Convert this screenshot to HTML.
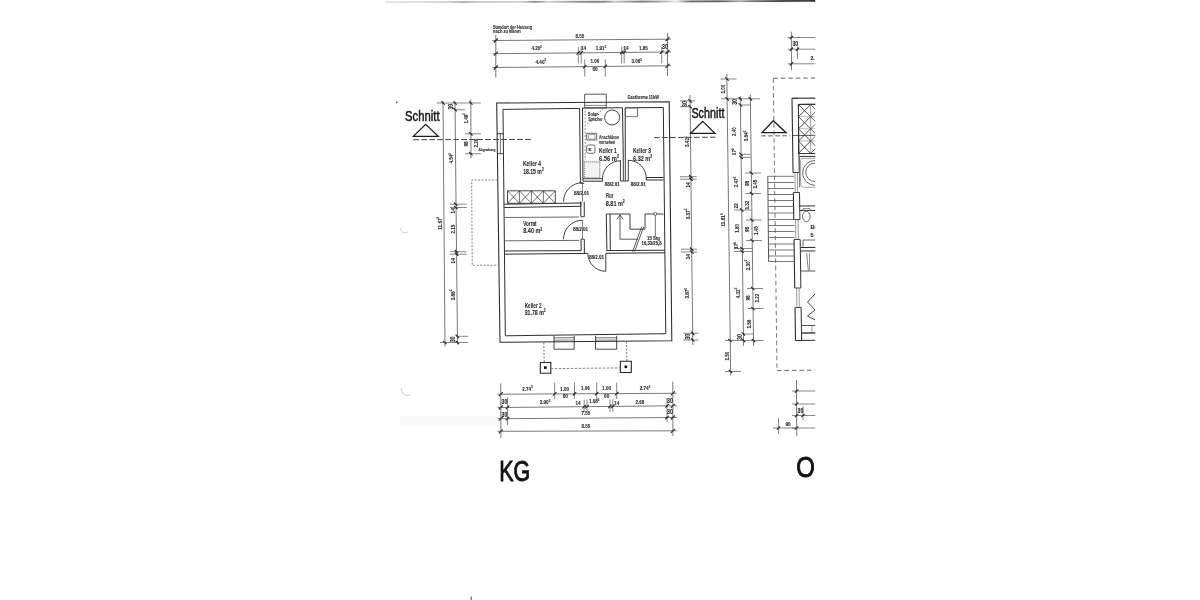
<!DOCTYPE html>
<html><head><meta charset="utf-8"><title>KG Grundriss</title>
<style>
html,body{margin:0;padding:0;background:#fff;}
body{width:1200px;height:600px;overflow:hidden;}
svg{display:block;font-family:"Liberation Sans",sans-serif;filter:grayscale(1) blur(0.45px);}
text{stroke:#333;stroke-width:0.12px;paint-order:stroke;font-weight:bold;}
</style></head>
<body>
<svg width="1200" height="600" viewBox="0 0 1200 600">
<rect width="1200" height="600" fill="#fff"/>
<clipPath id="cp"><rect x="380" y="0" width="435.2" height="600"/></clipPath>
<g clip-path="url(#cp)">
<defs><linearGradient id="sg" x1="385" y1="0" x2="816" y2="0" gradientUnits="userSpaceOnUse"><stop offset="0.000" stop-color="#e2e2e2"/><stop offset="0.146" stop-color="#d2d2d2"/><stop offset="0.179" stop-color="#a8a8a8"/><stop offset="0.220" stop-color="#cacaca"/><stop offset="0.318" stop-color="#cccccc"/><stop offset="0.348" stop-color="#8a8a8a"/><stop offset="0.378" stop-color="#d0d0d0"/><stop offset="0.418" stop-color="#b0b0b0"/><stop offset="0.476" stop-color="#808080"/><stop offset="0.510" stop-color="#8a8a8a"/><stop offset="0.534" stop-color="#c8c8c8"/><stop offset="0.592" stop-color="#7a7a7a"/><stop offset="0.638" stop-color="#a0a0a0"/><stop offset="0.675" stop-color="#e8e8e8"/><stop offset="0.708" stop-color="#6a6a6a"/><stop offset="0.777" stop-color="#5a5a5a"/><stop offset="0.824" stop-color="#a8a8a8"/><stop offset="0.852" stop-color="#707070"/><stop offset="0.916" stop-color="#3a3a3a"/><stop offset="0.981" stop-color="#444444"/><stop offset="0.998" stop-color="#222222"/></linearGradient></defs>
<path d="M385,2.1 L600,1.7 L816,0.9" stroke="url(#sg)" stroke-width="1.9" fill="none"/>
<line x1="492.50" y1="40.52" x2="671.00" y2="39.17" stroke="#555" stroke-width="0.8" />
<line x1="492.50" y1="53.73" x2="671.00" y2="51.97" stroke="#555" stroke-width="0.8" />
<line x1="492.50" y1="67.53" x2="671.00" y2="65.77" stroke="#555" stroke-width="0.8" />
<line x1="495.80" y1="35.00" x2="495.80" y2="77.50" stroke="#555" stroke-width="0.8" />
<line x1="667.50" y1="33.00" x2="667.50" y2="76.00" stroke="#555" stroke-width="0.8" />
<line x1="493.80" y1="42.50" x2="497.80" y2="38.50" stroke="#222" stroke-width="1.1" />
<line x1="493.80" y1="55.70" x2="497.80" y2="51.70" stroke="#222" stroke-width="1.1" />
<line x1="493.80" y1="69.50" x2="497.80" y2="65.50" stroke="#222" stroke-width="1.1" />
<line x1="665.50" y1="41.20" x2="669.50" y2="37.20" stroke="#222" stroke-width="1.1" />
<line x1="665.50" y1="54.00" x2="669.50" y2="50.00" stroke="#222" stroke-width="1.1" />
<line x1="665.50" y1="67.80" x2="669.50" y2="63.80" stroke="#222" stroke-width="1.1" />
<line x1="578.30" y1="46.70" x2="578.30" y2="63.30" stroke="#555" stroke-width="0.7" />
<line x1="576.60" y1="54.58" x2="580.00" y2="51.18" stroke="#222" stroke-width="1.1" />
<line x1="581.20" y1="46.70" x2="581.20" y2="63.30" stroke="#555" stroke-width="0.7" />
<line x1="579.50" y1="54.55" x2="582.90" y2="51.15" stroke="#222" stroke-width="1.1" />
<line x1="621.70" y1="46.70" x2="621.70" y2="63.30" stroke="#555" stroke-width="0.7" />
<line x1="620.00" y1="54.15" x2="623.40" y2="50.75" stroke="#222" stroke-width="1.1" />
<line x1="624.20" y1="46.70" x2="624.20" y2="63.30" stroke="#555" stroke-width="0.7" />
<line x1="622.50" y1="54.13" x2="625.90" y2="50.73" stroke="#222" stroke-width="1.1" />
<line x1="661.70" y1="46.70" x2="661.70" y2="63.30" stroke="#555" stroke-width="0.7" />
<line x1="660.00" y1="53.76" x2="663.40" y2="50.36" stroke="#222" stroke-width="1.1" />
<line x1="584.70" y1="59.50" x2="584.70" y2="76.50" stroke="#555" stroke-width="0.7" />
<line x1="583.00" y1="68.32" x2="586.40" y2="64.92" stroke="#222" stroke-width="1.1" />
<line x1="605.30" y1="59.50" x2="605.30" y2="76.50" stroke="#555" stroke-width="0.7" />
<line x1="603.60" y1="68.12" x2="607.00" y2="64.72" stroke="#222" stroke-width="1.1" />
<text x="493.00" y="28.60" font-size="5.6" text-anchor="start" fill="#2a2a2a" font-weight="normal" textLength="39.00" lengthAdjust="spacingAndGlyphs" >Standort der Heizung</text>
<text x="493.00" y="33.40" font-size="5.6" text-anchor="start" fill="#2a2a2a" font-weight="normal" textLength="27.80" lengthAdjust="spacingAndGlyphs" >nach zu klären</text>
<text x="580.00" y="37.60" font-size="5.8" text-anchor="middle" fill="#2a2a2a" textLength="8.80" lengthAdjust="spacingAndGlyphs">8.55</text>
<text x="536.70" y="50.30" font-size="5.8" text-anchor="middle" fill="#2a2a2a" textLength="10.50" lengthAdjust="spacingAndGlyphs">4.20<tspan font-size="3.60" dy="-2.20">5</tspan></text>
<text x="583.50" y="50.00" font-size="5.8" text-anchor="middle" fill="#2a2a2a" textLength="5.20" lengthAdjust="spacingAndGlyphs">14</text>
<text x="601.00" y="49.70" font-size="5.8" text-anchor="middle" fill="#2a2a2a" textLength="10.50" lengthAdjust="spacingAndGlyphs">1.91<tspan font-size="3.60" dy="-2.20">5</tspan></text>
<text x="626.00" y="49.60" font-size="5.8" text-anchor="middle" fill="#2a2a2a" textLength="5.20" lengthAdjust="spacingAndGlyphs">14</text>
<text x="643.30" y="49.50" font-size="5.8" text-anchor="middle" fill="#2a2a2a" textLength="8.80" lengthAdjust="spacingAndGlyphs">1.85</text>
<text x="665.00" y="49.40" font-size="6.4" text-anchor="middle" fill="#2a2a2a" textLength="5.80" lengthAdjust="spacingAndGlyphs">30</text>
<text x="540.80" y="63.60" font-size="5.8" text-anchor="middle" fill="#2a2a2a" textLength="10.50" lengthAdjust="spacingAndGlyphs">4.40<tspan font-size="3.60" dy="-2.20">5</tspan></text>
<text x="595.00" y="63.40" font-size="5.8" text-anchor="middle" fill="#2a2a2a" textLength="8.80" lengthAdjust="spacingAndGlyphs">1.00</text>
<text x="595.00" y="71.20" font-size="5.8" text-anchor="middle" fill="#2a2a2a" textLength="5.20" lengthAdjust="spacingAndGlyphs">60</text>
<text x="636.70" y="63.00" font-size="5.8" text-anchor="middle" fill="#2a2a2a" textLength="10.50" lengthAdjust="spacingAndGlyphs">3.06<tspan font-size="3.60" dy="-2.20">5</tspan></text>
<polygon points="496.70,103.00 669.20,101.70 671.80,340.80 500.00,342.30" fill="none" stroke="#2e2e2e" stroke-width="1.1" />
<line x1="503.00" y1="109.40" x2="505.30" y2="335.80" stroke="#2e2e2e" stroke-width="1.0" />
<line x1="503.00" y1="109.40" x2="579.60" y2="108.40" stroke="#2e2e2e" stroke-width="1.0" />
<line x1="505.30" y1="335.80" x2="665.80" y2="333.70" stroke="#2e2e2e" stroke-width="1.0" />
<line x1="663.30" y1="107.50" x2="665.80" y2="333.70" stroke="#2e2e2e" stroke-width="1.0" />
<line x1="582.50" y1="108.00" x2="622.50" y2="107.80" stroke="#2e2e2e" stroke-width="1.0" />
<line x1="625.20" y1="107.80" x2="663.30" y2="107.50" stroke="#2e2e2e" stroke-width="1.0" />
<line x1="497.00" y1="133.70" x2="503.40" y2="133.70" stroke="#2e2e2e" stroke-width="0.9" />
<line x1="497.20" y1="153.70" x2="503.60" y2="153.70" stroke="#2e2e2e" stroke-width="0.9" />
<line x1="500.30" y1="133.70" x2="500.40" y2="153.70" stroke="#2e2e2e" stroke-width="0.7" />
<polygon points="584.70,94.20 606.30,94.20 606.30,107.90 584.70,107.90" fill="none" stroke="#444" stroke-width="0.9" />
<line x1="585.00" y1="105.40" x2="606.00" y2="105.40" stroke="#555" stroke-width="0.7" />
<line x1="579.60" y1="108.40" x2="580.40" y2="183.30" stroke="#2e2e2e" stroke-width="1.0" />
<line x1="582.50" y1="108.00" x2="582.90" y2="181.20" stroke="#2e2e2e" stroke-width="1.0" />
<line x1="582.90" y1="178.70" x2="602.50" y2="178.70" stroke="#2e2e2e" stroke-width="1.0" />
<line x1="582.90" y1="181.20" x2="602.50" y2="181.20" stroke="#2e2e2e" stroke-width="1.0" />
<line x1="602.50" y1="178.70" x2="602.50" y2="181.20" stroke="#2e2e2e" stroke-width="0.9" />
<line x1="620.40" y1="160.00" x2="620.40" y2="181.00" stroke="#2e2e2e" stroke-width="0.9" />
<line x1="623.30" y1="160.00" x2="623.30" y2="181.00" stroke="#2e2e2e" stroke-width="0.9" />
<line x1="625.30" y1="160.00" x2="625.30" y2="181.00" stroke="#2e2e2e" stroke-width="0.9" />
<line x1="628.30" y1="160.00" x2="628.30" y2="181.00" stroke="#2e2e2e" stroke-width="0.9" />
<line x1="622.50" y1="107.80" x2="623.30" y2="160.00" stroke="#2e2e2e" stroke-width="1.0" />
<line x1="625.20" y1="107.80" x2="625.30" y2="160.00" stroke="#2e2e2e" stroke-width="1.0" />
<line x1="620.40" y1="181.00" x2="628.30" y2="181.00" stroke="#2e2e2e" stroke-width="0.9" />
<line x1="646.30" y1="177.50" x2="663.50" y2="177.50" stroke="#2e2e2e" stroke-width="1.0" />
<line x1="646.30" y1="180.00" x2="663.50" y2="180.00" stroke="#2e2e2e" stroke-width="1.0" />
<line x1="646.30" y1="177.50" x2="646.30" y2="180.00" stroke="#2e2e2e" stroke-width="0.9" />
<path d="M602.50,178.70 A17.90,17.90 0 0 1 620.40,160.80" fill="none" stroke="#2e2e2e" stroke-width="0.9"/>
<path d="M628.30,160.30 A18.00,18.00 0 0 1 646.30,178.30" fill="none" stroke="#2e2e2e" stroke-width="0.9"/>
<line x1="580.40" y1="183.30" x2="584.20" y2="183.30" stroke="#2e2e2e" stroke-width="0.9" />
<line x1="580.80" y1="201.70" x2="580.90" y2="216.70" stroke="#2e2e2e" stroke-width="1.0" />
<line x1="584.20" y1="201.70" x2="584.30" y2="216.70" stroke="#2e2e2e" stroke-width="1.0" />
<line x1="580.80" y1="216.70" x2="584.30" y2="216.70" stroke="#2e2e2e" stroke-width="0.9" />
<line x1="581.00" y1="239.20" x2="581.20" y2="250.80" stroke="#2e2e2e" stroke-width="1.0" />
<line x1="584.30" y1="239.20" x2="584.40" y2="253.30" stroke="#2e2e2e" stroke-width="1.0" />
<line x1="581.00" y1="239.20" x2="584.30" y2="239.20" stroke="#2e2e2e" stroke-width="0.9" />
<line x1="504.20" y1="204.20" x2="581.00" y2="203.00" stroke="#2e2e2e" stroke-width="1.0" />
<line x1="504.30" y1="207.50" x2="580.80" y2="206.30" stroke="#2e2e2e" stroke-width="1.0" />
<line x1="580.80" y1="201.70" x2="580.80" y2="206.30" stroke="#2e2e2e" stroke-width="0.9" />
<line x1="504.80" y1="251.00" x2="581.20" y2="250.60" stroke="#2e2e2e" stroke-width="1.0" />
<line x1="504.90" y1="254.20" x2="587.60" y2="253.40" stroke="#2e2e2e" stroke-width="1.0" />
<line x1="605.80" y1="253.30" x2="665.00" y2="252.80" stroke="#2e2e2e" stroke-width="1.0" />
<line x1="606.30" y1="250.60" x2="664.80" y2="250.20" stroke="#2e2e2e" stroke-width="1.0" />
<path d="M563.50,201.70 A19.00,19.00 0 0 1 582.50,182.70" fill="none" stroke="#2e2e2e" stroke-width="0.9"/>
<path d="M563.50,239.20 A19.00,19.00 0 0 1 582.50,220.20" fill="none" stroke="#2e2e2e" stroke-width="0.9"/>
<path d="M605.80,271.30 A18.00,18.00 0 0 1 587.80,253.30" fill="none" stroke="#2e2e2e" stroke-width="0.9"/>
<line x1="605.80" y1="253.30" x2="605.80" y2="271.30" stroke="#2e2e2e" stroke-width="0.9" />
<line x1="582.50" y1="182.70" x2="582.50" y2="201.70" stroke="#2e2e2e" stroke-width="0.6" />
<line x1="582.50" y1="220.20" x2="582.50" y2="239.20" stroke="#2e2e2e" stroke-width="0.6" />
<line x1="504.50" y1="217.50" x2="579.00" y2="217.00" stroke="#444" stroke-width="0.8" />
<line x1="504.80" y1="240.80" x2="579.00" y2="240.40" stroke="#444" stroke-width="0.8" />
<polygon points="507.50,190.80 555.30,190.80 555.30,203.30 507.50,203.30" fill="none" stroke="#333" stroke-width="0.9" />
<line x1="507.50" y1="190.80" x2="519.45" y2="203.30" stroke="#333" stroke-width="0.7" />
<line x1="507.50" y1="203.30" x2="519.45" y2="190.80" stroke="#333" stroke-width="0.7" />
<line x1="519.45" y1="190.80" x2="531.40" y2="203.30" stroke="#333" stroke-width="0.7" />
<line x1="519.45" y1="203.30" x2="531.40" y2="190.80" stroke="#333" stroke-width="0.7" />
<line x1="519.45" y1="190.80" x2="519.45" y2="203.30" stroke="#333" stroke-width="0.7" />
<line x1="531.40" y1="190.80" x2="543.35" y2="203.30" stroke="#333" stroke-width="0.7" />
<line x1="531.40" y1="203.30" x2="543.35" y2="190.80" stroke="#333" stroke-width="0.7" />
<line x1="531.40" y1="190.80" x2="531.40" y2="203.30" stroke="#333" stroke-width="0.7" />
<line x1="543.35" y1="190.80" x2="555.30" y2="203.30" stroke="#333" stroke-width="0.7" />
<line x1="543.35" y1="203.30" x2="555.30" y2="190.80" stroke="#333" stroke-width="0.7" />
<line x1="543.35" y1="190.80" x2="543.35" y2="203.30" stroke="#333" stroke-width="0.7" />
<line x1="606.30" y1="214.00" x2="606.90" y2="250.60" stroke="#2e2e2e" stroke-width="1.0" />
<line x1="610.00" y1="214.00" x2="610.30" y2="250.40" stroke="#2e2e2e" stroke-width="1.0" />
<line x1="606.30" y1="214.00" x2="630.00" y2="214.00" stroke="#2e2e2e" stroke-width="0.9" />
<polyline points="630.00,214.00 630.00,229.20 645.00,229.20 645.00,214.00 663.30,214.00" fill="none" stroke="#2e2e2e" stroke-width="0.9" />
<polyline points="638.00,239.20 620.00,239.20 620.00,215.00" fill="none" stroke="#333" stroke-width="0.8" />
<polyline points="616.80,219.50 620.00,214.80 623.20,219.50" fill="none" stroke="#333" stroke-width="0.8" />
<line x1="632.50" y1="251.70" x2="641.70" y2="226.70" stroke="#333" stroke-width="0.8" />
<line x1="634.50" y1="251.70" x2="643.70" y2="226.70" stroke="#333" stroke-width="0.8" />
<circle cx="655.3" cy="213.9" r="1.5" fill="white" stroke="#333" stroke-width="0.7"/>
<line x1="655.30" y1="215.40" x2="655.30" y2="236.70" stroke="#333" stroke-width="0.7" />
<text x="647.00" y="239.60" font-size="4.6" text-anchor="start" fill="#2a2a2a" font-weight="normal" textLength="13.00" lengthAdjust="spacingAndGlyphs" >15 Stg</text>
<text x="641.60" y="244.80" font-size="4.6" text-anchor="start" fill="#2a2a2a" font-weight="normal" textLength="20.00" lengthAdjust="spacingAndGlyphs" >16,33/25,8</text>
<circle cx="612.1" cy="117.5" r="7.5" fill="none" stroke="#333" stroke-width="0.9"/>
<line x1="585.20" y1="110.50" x2="585.20" y2="160.00" stroke="#777" stroke-width="0.8" stroke-dasharray="2 1.5"/>
<line x1="586.90" y1="124.00" x2="603.40" y2="108.30" stroke="#666" stroke-width="0.8" stroke-dasharray="2 1.5"/>
<text x="587.80" y="115.80" font-size="5.4" text-anchor="start" fill="#2a2a2a" font-weight="normal" textLength="11.30" lengthAdjust="spacingAndGlyphs" >Solar-</text>
<text x="588.20" y="120.80" font-size="5.4" text-anchor="start" fill="#2a2a2a" font-weight="normal" textLength="14.30" lengthAdjust="spacingAndGlyphs" >Speicher</text>
<polygon points="586.70,133.30 596.70,133.30 596.70,140.00 586.70,140.00" fill="none" stroke="#444" stroke-width="0.8" />
<polygon points="588.50,134.50 595.00,134.50 595.00,139.00 588.50,139.00" fill="none" stroke="#666" stroke-width="0.6" />
<text x="599.00" y="138.70" font-size="5.4" text-anchor="start" fill="#2a2a2a" font-weight="normal" textLength="20.00" lengthAdjust="spacingAndGlyphs" >Anschlüsse</text>
<text x="599.00" y="144.30" font-size="5.4" text-anchor="start" fill="#2a2a2a" font-weight="normal" textLength="16.30" lengthAdjust="spacingAndGlyphs" >vorsehen</text>
<rect x="586.7" y="145" width="8.3" height="8.3" rx="1.8" fill="none" stroke="#444" stroke-width="0.8"/>
<text x="588.60" y="151.40" font-size="4.4" text-anchor="start" fill="#2a2a2a" font-weight="normal" >E</text>
<text x="599.00" y="153.30" font-size="7.2" text-anchor="start" fill="#2a2a2a" font-weight="normal" textLength="17.70" lengthAdjust="spacingAndGlyphs" >Keller  1</text>
<text x="599.00" y="160.70" font-size="7.2" text-anchor="start" fill="#2a2a2a" font-weight="normal" textLength="20.00" lengthAdjust="spacingAndGlyphs" >6.56 m<tspan font-size="4.6" dy="-2.8">2</tspan></text>
<rect x="584.2" y="161.8" width="15.6" height="16" fill="#f2f2f2" stroke="#888" stroke-width="1.2" stroke-dasharray="1.2 0.8"/>
<polygon points="625.40,107.90 637.50,107.90 637.50,116.70 625.40,116.70" fill="none" stroke="#555" stroke-width="0.8" />
<text x="633.00" y="153.00" font-size="7.2" text-anchor="start" fill="#2a2a2a" font-weight="normal" textLength="18.00" lengthAdjust="spacingAndGlyphs" >Keller  3</text>
<text x="633.00" y="160.70" font-size="7.2" text-anchor="start" fill="#2a2a2a" font-weight="normal" textLength="19.30" lengthAdjust="spacingAndGlyphs" >6.32 m<tspan font-size="4.6" dy="-2.8">2</tspan></text>
<text x="523.00" y="166.30" font-size="7.2" text-anchor="start" fill="#2a2a2a" font-weight="normal" textLength="18.00" lengthAdjust="spacingAndGlyphs" >Keller  4</text>
<text x="523.20" y="173.70" font-size="7.2" text-anchor="start" fill="#2a2a2a" font-weight="normal" textLength="20.50" lengthAdjust="spacingAndGlyphs" >18.15 m<tspan font-size="4.6" dy="-2.8">2</tspan></text>
<text x="523.30" y="225.80" font-size="7.2" text-anchor="start" fill="#2a2a2a" font-weight="normal" textLength="13.30" lengthAdjust="spacingAndGlyphs" >Vorrat</text>
<text x="523.30" y="233.30" font-size="7.2" text-anchor="start" fill="#2a2a2a" font-weight="normal" textLength="19.00" lengthAdjust="spacingAndGlyphs" >8.40 m<tspan font-size="4.6" dy="-2.8">2</tspan></text>
<text x="524.70" y="307.50" font-size="7.2" text-anchor="start" fill="#2a2a2a" font-weight="normal" textLength="17.00" lengthAdjust="spacingAndGlyphs" >Keller  2</text>
<text x="524.70" y="315.00" font-size="7.2" text-anchor="start" fill="#2a2a2a" font-weight="normal" textLength="21.00" lengthAdjust="spacingAndGlyphs" >31.78 m<tspan font-size="4.6" dy="-2.8">2</tspan></text>
<text x="605.80" y="198.30" font-size="7.2" text-anchor="start" fill="#2a2a2a" font-weight="normal" textLength="7.50" lengthAdjust="spacingAndGlyphs" >Flur</text>
<text x="605.80" y="205.80" font-size="7.2" text-anchor="start" fill="#2a2a2a" font-weight="normal" textLength="19.00" lengthAdjust="spacingAndGlyphs" >8.81 m<tspan font-size="4.6" dy="-2.8">2</tspan></text>
<text x="581.50" y="195.20" font-size="5.0" text-anchor="middle" fill="#2a2a2a" font-weight="normal" textLength="15.20" lengthAdjust="spacingAndGlyphs" >88/2.01</text>
<text x="580.50" y="231.00" font-size="5.0" text-anchor="middle" fill="#2a2a2a" font-weight="normal" textLength="15.20" lengthAdjust="spacingAndGlyphs" >88/2.01</text>
<text x="596.50" y="258.60" font-size="5.0" text-anchor="middle" fill="#2a2a2a" font-weight="normal" textLength="15.20" lengthAdjust="spacingAndGlyphs" >88/2.01</text>
<text x="612.30" y="186.40" font-size="5.0" text-anchor="middle" fill="#2a2a2a" font-weight="normal" textLength="15.20" lengthAdjust="spacingAndGlyphs" >88/2.01</text>
<text x="638.30" y="185.60" font-size="5.0" text-anchor="middle" fill="#2a2a2a" font-weight="normal" textLength="15.20" lengthAdjust="spacingAndGlyphs" >88/2.01</text>
<text x="627.50" y="99.40" font-size="4.6" text-anchor="start" fill="#2a2a2a" font-weight="normal" textLength="31.30" lengthAdjust="spacingAndGlyphs" >Gastherme 11kW</text>
<polyline points="554.00,335.80 554.00,349.20 574.20,349.20 574.20,335.80" fill="none" stroke="#333" stroke-width="0.9" />
<line x1="554.00" y1="337.90" x2="574.20" y2="337.70" stroke="#444" stroke-width="0.8" />
<line x1="554.00" y1="340.20" x2="574.20" y2="340.00" stroke="#555" stroke-width="0.7" />
<polyline points="595.50,335.80 595.50,349.20 616.70,349.20 616.70,335.80" fill="none" stroke="#333" stroke-width="0.9" />
<line x1="595.50" y1="337.90" x2="616.70" y2="337.70" stroke="#444" stroke-width="0.8" />
<line x1="595.50" y1="340.20" x2="616.70" y2="340.00" stroke="#555" stroke-width="0.7" />
<line x1="543.80" y1="342.50" x2="544.20" y2="362.50" stroke="#555" stroke-width="0.8" stroke-dasharray="2 1.5"/>
<line x1="626.50" y1="341.50" x2="626.70" y2="361.30" stroke="#555" stroke-width="0.8" stroke-dasharray="2 1.5"/>
<polygon points="540.30,362.50 550.80,362.50 550.80,373.30 540.30,373.30" fill="none" stroke="#222" stroke-width="1.1" />
<polygon points="620.30,361.30 631.30,361.30 631.30,372.50 620.30,372.50" fill="none" stroke="#222" stroke-width="1.1" />
<rect x="544" y="366.3" width="2.7" height="2.6" fill="#111"/>
<rect x="624.5" y="365.5" width="2.7" height="2.6" fill="#111"/>
<line x1="550.80" y1="368.70" x2="620.30" y2="367.90" stroke="#666" stroke-width="0.8" stroke-dasharray="2.5 1.5"/>
<polyline points="497.50,180.00 471.70,180.00 472.20,265.30 498.20,265.30" fill="none" stroke="#666" stroke-width="0.8" stroke-dasharray="2 1.5"/>
<line x1="443.00" y1="101.00" x2="445.00" y2="346.50" stroke="#555" stroke-width="0.8" />
<line x1="455.00" y1="101.50" x2="457.50" y2="344.50" stroke="#555" stroke-width="0.8" />
<line x1="470.80" y1="99.50" x2="471.00" y2="158.50" stroke="#555" stroke-width="0.8" />
<line x1="436.70" y1="103.00" x2="480.80" y2="103.00" stroke="#555" stroke-width="0.7" />
<line x1="455.00" y1="109.70" x2="465.00" y2="109.70" stroke="#555" stroke-width="0.7" />
<line x1="465.00" y1="133.80" x2="480.80" y2="133.80" stroke="#555" stroke-width="0.7" />
<line x1="465.00" y1="153.70" x2="480.80" y2="153.70" stroke="#555" stroke-width="0.7" />
<line x1="450.00" y1="204.20" x2="466.70" y2="204.20" stroke="#555" stroke-width="0.7" />
<line x1="450.00" y1="207.50" x2="466.70" y2="207.50" stroke="#555" stroke-width="0.7" />
<line x1="450.00" y1="251.70" x2="466.70" y2="251.70" stroke="#555" stroke-width="0.7" />
<line x1="450.00" y1="254.20" x2="466.70" y2="254.20" stroke="#555" stroke-width="0.7" />
<line x1="456.70" y1="336.30" x2="468.30" y2="336.30" stroke="#555" stroke-width="0.7" />
<line x1="440.00" y1="342.50" x2="468.30" y2="342.50" stroke="#555" stroke-width="0.7" />
<line x1="441.30" y1="101.30" x2="444.70" y2="104.70" stroke="#222" stroke-width="1.1" />
<line x1="453.30" y1="101.30" x2="456.70" y2="104.70" stroke="#222" stroke-width="1.1" />
<line x1="469.10" y1="101.30" x2="472.50" y2="104.70" stroke="#222" stroke-width="1.1" />
<line x1="453.30" y1="108.00" x2="456.70" y2="111.40" stroke="#222" stroke-width="1.1" />
<line x1="469.10" y1="132.10" x2="472.50" y2="135.50" stroke="#222" stroke-width="1.1" />
<line x1="469.10" y1="152.00" x2="472.50" y2="155.40" stroke="#222" stroke-width="1.1" />
<line x1="454.00" y1="202.50" x2="457.40" y2="205.90" stroke="#222" stroke-width="1.1" />
<line x1="454.10" y1="205.80" x2="457.50" y2="209.20" stroke="#222" stroke-width="1.1" />
<line x1="454.80" y1="250.00" x2="458.20" y2="253.40" stroke="#222" stroke-width="1.1" />
<line x1="454.90" y1="252.50" x2="458.30" y2="255.90" stroke="#222" stroke-width="1.1" />
<line x1="455.60" y1="334.60" x2="459.00" y2="338.00" stroke="#222" stroke-width="1.1" />
<line x1="443.20" y1="340.80" x2="446.60" y2="344.20" stroke="#222" stroke-width="1.1" />
<line x1="455.70" y1="340.80" x2="459.10" y2="344.20" stroke="#222" stroke-width="1.1" />
<text x="450.50" y="106.70" dy="2.1" font-size="6.4" text-anchor="middle" fill="#2a2a2a" textLength="5.80" lengthAdjust="spacingAndGlyphs" transform="rotate(-90 450.50 106.70)">30</text>
<text x="465.50" y="118.30" dy="2.1" font-size="5.8" text-anchor="middle" fill="#2a2a2a" textLength="10.50" lengthAdjust="spacingAndGlyphs" transform="rotate(-90 465.50 118.30)">1.49<tspan font-size="3.60" dy="-2.20">5</tspan></text>
<text x="466.00" y="144.00" dy="2.1" font-size="5.8" text-anchor="middle" fill="#2a2a2a" textLength="5.20" lengthAdjust="spacingAndGlyphs" transform="rotate(-90 466.00 144.00)">98</text>
<text x="475.80" y="143.00" dy="2.1" font-size="5.8" text-anchor="middle" fill="#2a2a2a" textLength="8.80" lengthAdjust="spacingAndGlyphs" transform="rotate(-90 475.80 143.00)">2.26</text>
<text x="478.50" y="151.20" font-size="3.8" text-anchor="start" fill="#2a2a2a" font-weight="normal" textLength="17.00" lengthAdjust="spacingAndGlyphs" >Abgrabung</text>
<text x="451.00" y="158.30" dy="2.1" font-size="5.8" text-anchor="middle" fill="#2a2a2a" textLength="10.50" lengthAdjust="spacingAndGlyphs" transform="rotate(-90 451.00 158.30)">4.54<tspan font-size="3.60" dy="-2.20">5</tspan></text>
<text x="452.50" y="210.80" dy="2.1" font-size="5.8" text-anchor="middle" fill="#2a2a2a" textLength="5.20" lengthAdjust="spacingAndGlyphs" transform="rotate(-90 452.50 210.80)">14</text>
<text x="452.50" y="229.20" dy="2.1" font-size="5.8" text-anchor="middle" fill="#2a2a2a" textLength="8.80" lengthAdjust="spacingAndGlyphs" transform="rotate(-90 452.50 229.20)">2.15</text>
<text x="452.50" y="260.80" dy="2.1" font-size="5.8" text-anchor="middle" fill="#2a2a2a" textLength="5.20" lengthAdjust="spacingAndGlyphs" transform="rotate(-90 452.50 260.80)">14</text>
<text x="439.50" y="223.30" dy="2.1" font-size="5.8" text-anchor="middle" fill="#2a2a2a" textLength="13.10" lengthAdjust="spacingAndGlyphs" transform="rotate(-90 439.50 223.30)">11.67<tspan font-size="3.60" dy="-2.20">5</tspan></text>
<text x="452.50" y="295.00" dy="2.1" font-size="5.8" text-anchor="middle" fill="#2a2a2a" textLength="10.50" lengthAdjust="spacingAndGlyphs" transform="rotate(-90 452.50 295.00)">3.86<tspan font-size="3.60" dy="-2.20">5</tspan></text>
<text x="452.50" y="339.40" dy="2.1" font-size="6.4" text-anchor="middle" fill="#2a2a2a" textLength="5.80" lengthAdjust="spacingAndGlyphs" transform="rotate(-90 452.50 339.40)">30</text>
<text x="405.00" y="121.40" font-size="14" text-anchor="start" fill="#1a1a1a" font-weight="normal" textLength="34.60" lengthAdjust="spacingAndGlyphs" style="stroke:#1a1a1a;stroke-width:0.5px;font-weight:normal">Schnitt</text>
<polygon points="413.30,136.40 425.70,124.30 438.30,136.40" fill="none" stroke="#1e1e1e" stroke-width="1.3" />
<line x1="413.30" y1="139.70" x2="532.00" y2="139.40" stroke="#444" stroke-width="1.0" stroke-dasharray="5.7 2.3"/>
<line x1="690.00" y1="95.00" x2="692.80" y2="345.00" stroke="#555" stroke-width="0.8" />
<line x1="680.00" y1="100.80" x2="695.00" y2="100.80" stroke="#555" stroke-width="0.7" />
<line x1="680.00" y1="106.70" x2="690.00" y2="106.70" stroke="#555" stroke-width="0.7" />
<line x1="680.00" y1="176.70" x2="696.70" y2="176.70" stroke="#555" stroke-width="0.7" />
<line x1="680.00" y1="179.20" x2="696.70" y2="179.20" stroke="#555" stroke-width="0.7" />
<line x1="681.00" y1="249.20" x2="697.00" y2="249.20" stroke="#555" stroke-width="0.7" />
<line x1="681.00" y1="252.00" x2="697.00" y2="252.00" stroke="#555" stroke-width="0.7" />
<line x1="683.30" y1="333.30" x2="698.30" y2="333.30" stroke="#555" stroke-width="0.7" />
<line x1="683.30" y1="340.00" x2="698.30" y2="340.00" stroke="#555" stroke-width="0.7" />
<line x1="688.36" y1="99.10" x2="691.76" y2="102.50" stroke="#222" stroke-width="1.1" />
<line x1="688.43" y1="105.00" x2="691.83" y2="108.40" stroke="#222" stroke-width="1.1" />
<line x1="689.22" y1="175.00" x2="692.62" y2="178.40" stroke="#222" stroke-width="1.1" />
<line x1="689.24" y1="177.50" x2="692.64" y2="180.90" stroke="#222" stroke-width="1.1" />
<line x1="690.03" y1="247.50" x2="693.43" y2="250.90" stroke="#222" stroke-width="1.1" />
<line x1="690.06" y1="250.30" x2="693.46" y2="253.70" stroke="#222" stroke-width="1.1" />
<line x1="690.97" y1="331.60" x2="694.37" y2="335.00" stroke="#222" stroke-width="1.1" />
<line x1="691.04" y1="338.30" x2="694.44" y2="341.70" stroke="#222" stroke-width="1.1" />
<text x="684.70" y="104.00" dy="2.1" font-size="6.4" text-anchor="middle" fill="#2a2a2a" textLength="5.80" lengthAdjust="spacingAndGlyphs" transform="rotate(-90 684.70 104.00)">30</text>
<text x="686.80" y="141.70" dy="2.1" font-size="5.8" text-anchor="middle" fill="#2a2a2a" textLength="10.50" lengthAdjust="spacingAndGlyphs" transform="rotate(-90 686.80 141.70)">3.42<tspan font-size="3.60" dy="-2.20">5</tspan></text>
<text x="687.50" y="185.00" dy="2.1" font-size="5.8" text-anchor="middle" fill="#2a2a2a" textLength="5.20" lengthAdjust="spacingAndGlyphs" transform="rotate(-90 687.50 185.00)">14</text>
<text x="687.50" y="214.00" dy="2.1" font-size="5.8" text-anchor="middle" fill="#2a2a2a" textLength="10.50" lengthAdjust="spacingAndGlyphs" transform="rotate(-90 687.50 214.00)">3.37<tspan font-size="3.60" dy="-2.20">5</tspan></text>
<text x="687.80" y="256.70" dy="2.1" font-size="5.8" text-anchor="middle" fill="#2a2a2a" textLength="5.20" lengthAdjust="spacingAndGlyphs" transform="rotate(-90 687.80 256.70)">14</text>
<text x="687.20" y="293.30" dy="2.1" font-size="5.8" text-anchor="middle" fill="#2a2a2a" textLength="10.50" lengthAdjust="spacingAndGlyphs" transform="rotate(-90 687.20 293.30)">3.87<tspan font-size="3.60" dy="-2.20">5</tspan></text>
<text x="688.00" y="336.70" dy="2.1" font-size="6.4" text-anchor="middle" fill="#2a2a2a" textLength="5.80" lengthAdjust="spacingAndGlyphs" transform="rotate(-90 688.00 336.70)">30</text>
<text x="691.40" y="117.70" font-size="14" text-anchor="start" fill="#1a1a1a" font-weight="normal" textLength="33.00" lengthAdjust="spacingAndGlyphs" style="stroke:#1a1a1a;stroke-width:0.5px;font-weight:normal">Schnitt</text>
<polygon points="690.70,133.30 702.70,121.30 715.00,133.30" fill="none" stroke="#1e1e1e" stroke-width="1.3" />
<line x1="654.00" y1="137.60" x2="715.50" y2="137.20" stroke="#444" stroke-width="1.0" stroke-dasharray="5.7 2.3"/>
<line x1="726.80" y1="74.00" x2="730.70" y2="375.50" stroke="#555" stroke-width="0.8" />
<line x1="740.30" y1="96.00" x2="743.60" y2="346.00" stroke="#555" stroke-width="0.8" />
<line x1="750.30" y1="94.50" x2="753.60" y2="346.00" stroke="#555" stroke-width="0.8" />
<line x1="720.50" y1="79.00" x2="736.50" y2="79.00" stroke="#555" stroke-width="0.7" />
<line x1="721.00" y1="98.80" x2="760.00" y2="98.80" stroke="#555" stroke-width="0.7" />
<line x1="740.30" y1="105.00" x2="750.30" y2="105.00" stroke="#555" stroke-width="0.7" />
<line x1="725.00" y1="340.50" x2="764.00" y2="340.50" stroke="#555" stroke-width="0.7" />
<line x1="725.00" y1="371.50" x2="741.00" y2="371.50" stroke="#555" stroke-width="0.7" />
<line x1="743.50" y1="334.00" x2="753.50" y2="334.00" stroke="#555" stroke-width="0.7" />
<line x1="742.00" y1="154.30" x2="750.70" y2="154.30" stroke="#555" stroke-width="0.7" />
<line x1="742.00" y1="157.30" x2="750.70" y2="157.30" stroke="#555" stroke-width="0.7" />
<line x1="745.00" y1="173.00" x2="761.00" y2="173.00" stroke="#555" stroke-width="0.7" />
<line x1="745.50" y1="193.50" x2="761.00" y2="193.50" stroke="#555" stroke-width="0.7" />
<line x1="734.00" y1="210.00" x2="751.00" y2="210.00" stroke="#555" stroke-width="0.7" />
<line x1="746.00" y1="220.00" x2="762.00" y2="220.00" stroke="#555" stroke-width="0.7" />
<line x1="746.00" y1="240.50" x2="762.00" y2="240.50" stroke="#555" stroke-width="0.7" />
<line x1="734.00" y1="248.50" x2="752.50" y2="248.50" stroke="#555" stroke-width="0.7" />
<line x1="734.00" y1="251.50" x2="752.50" y2="251.50" stroke="#555" stroke-width="0.7" />
<line x1="747.00" y1="288.50" x2="763.00" y2="288.50" stroke="#555" stroke-width="0.7" />
<line x1="747.50" y1="308.50" x2="763.50" y2="308.50" stroke="#555" stroke-width="0.7" />
<line x1="725.30" y1="77.30" x2="728.70" y2="80.70" stroke="#222" stroke-width="1.1" />
<line x1="725.50" y1="97.10" x2="728.90" y2="100.50" stroke="#222" stroke-width="1.1" />
<line x1="738.60" y1="97.10" x2="742.00" y2="100.50" stroke="#222" stroke-width="1.1" />
<line x1="748.60" y1="97.10" x2="752.00" y2="100.50" stroke="#222" stroke-width="1.1" />
<line x1="738.70" y1="103.30" x2="742.10" y2="106.70" stroke="#222" stroke-width="1.1" />
<line x1="739.30" y1="152.60" x2="742.70" y2="156.00" stroke="#222" stroke-width="1.1" />
<line x1="739.30" y1="155.60" x2="742.70" y2="159.00" stroke="#222" stroke-width="1.1" />
<line x1="749.60" y1="171.30" x2="753.00" y2="174.70" stroke="#222" stroke-width="1.1" />
<line x1="749.90" y1="191.80" x2="753.30" y2="195.20" stroke="#222" stroke-width="1.1" />
<line x1="740.00" y1="208.30" x2="743.40" y2="211.70" stroke="#222" stroke-width="1.1" />
<line x1="750.20" y1="218.30" x2="753.60" y2="221.70" stroke="#222" stroke-width="1.1" />
<line x1="750.40" y1="238.80" x2="753.80" y2="242.20" stroke="#222" stroke-width="1.1" />
<line x1="740.30" y1="246.80" x2="743.70" y2="250.20" stroke="#222" stroke-width="1.1" />
<line x1="740.30" y1="249.80" x2="743.70" y2="253.20" stroke="#222" stroke-width="1.1" />
<line x1="751.00" y1="286.80" x2="754.40" y2="290.20" stroke="#222" stroke-width="1.1" />
<line x1="751.20" y1="306.80" x2="754.60" y2="310.20" stroke="#222" stroke-width="1.1" />
<line x1="728.30" y1="338.80" x2="731.70" y2="342.20" stroke="#222" stroke-width="1.1" />
<line x1="741.80" y1="338.80" x2="745.20" y2="342.20" stroke="#222" stroke-width="1.1" />
<line x1="751.80" y1="338.80" x2="755.20" y2="342.20" stroke="#222" stroke-width="1.1" />
<line x1="741.70" y1="332.30" x2="745.10" y2="335.70" stroke="#222" stroke-width="1.1" />
<line x1="728.80" y1="369.80" x2="732.20" y2="373.20" stroke="#222" stroke-width="1.1" />
<text x="723.00" y="89.00" dy="2.1" font-size="5.8" text-anchor="middle" fill="#2a2a2a" textLength="8.80" lengthAdjust="spacingAndGlyphs" transform="rotate(-90 723.00 89.00)">1.00</text>
<text x="734.50" y="101.90" dy="2.1" font-size="6.4" text-anchor="middle" fill="#2a2a2a" textLength="5.80" lengthAdjust="spacingAndGlyphs" transform="rotate(-90 734.50 101.90)">30</text>
<text x="734.20" y="131.70" dy="2.1" font-size="5.8" text-anchor="middle" fill="#2a2a2a" textLength="8.80" lengthAdjust="spacingAndGlyphs" transform="rotate(-90 734.20 131.70)">2.40</text>
<text x="745.80" y="136.00" dy="2.1" font-size="5.8" text-anchor="middle" fill="#2a2a2a" textLength="10.50" lengthAdjust="spacingAndGlyphs" transform="rotate(-90 745.80 136.00)">3.64<tspan font-size="3.60" dy="-2.20">5</tspan></text>
<text x="734.00" y="151.70" dy="2.1" font-size="5.8" text-anchor="middle" fill="#2a2a2a" textLength="6.90" lengthAdjust="spacingAndGlyphs" transform="rotate(-90 734.00 151.70)">17<tspan font-size="3.60" dy="-2.20">5</tspan></text>
<text x="736.00" y="182.00" dy="2.1" font-size="5.8" text-anchor="middle" fill="#2a2a2a" textLength="10.50" lengthAdjust="spacingAndGlyphs" transform="rotate(-90 736.00 182.00)">2.47<tspan font-size="3.60" dy="-2.20">5</tspan></text>
<text x="747.00" y="183.50" dy="2.1" font-size="5.8" text-anchor="middle" fill="#2a2a2a" textLength="5.20" lengthAdjust="spacingAndGlyphs" transform="rotate(-90 747.00 183.50)">98</text>
<text x="755.00" y="184.00" dy="2.1" font-size="5.8" text-anchor="middle" fill="#2a2a2a" textLength="8.80" lengthAdjust="spacingAndGlyphs" transform="rotate(-90 755.00 184.00)">1.45</text>
<text x="735.50" y="206.00" dy="2.1" font-size="5.8" text-anchor="middle" fill="#2a2a2a" textLength="5.20" lengthAdjust="spacingAndGlyphs" transform="rotate(-90 735.50 206.00)">22</text>
<text x="746.50" y="205.00" dy="2.1" font-size="5.8" text-anchor="middle" fill="#2a2a2a" textLength="8.80" lengthAdjust="spacingAndGlyphs" transform="rotate(-90 746.50 205.00)">1.32</text>
<text x="722.80" y="220.00" dy="2.1" font-size="5.8" text-anchor="middle" fill="#2a2a2a" textLength="13.10" lengthAdjust="spacingAndGlyphs" transform="rotate(-90 722.80 220.00)">11.81<tspan font-size="3.60" dy="-2.20">5</tspan></text>
<text x="737.00" y="228.30" dy="2.1" font-size="5.8" text-anchor="middle" fill="#2a2a2a" textLength="8.80" lengthAdjust="spacingAndGlyphs" transform="rotate(-90 737.00 228.30)">1.80</text>
<text x="747.30" y="229.50" dy="2.1" font-size="5.8" text-anchor="middle" fill="#2a2a2a" textLength="5.20" lengthAdjust="spacingAndGlyphs" transform="rotate(-90 747.30 229.50)">98</text>
<text x="756.00" y="230.50" dy="2.1" font-size="5.8" text-anchor="middle" fill="#2a2a2a" textLength="8.80" lengthAdjust="spacingAndGlyphs" transform="rotate(-90 756.00 230.50)">1.45</text>
<text x="736.00" y="245.50" dy="2.1" font-size="5.8" text-anchor="middle" fill="#2a2a2a" textLength="6.90" lengthAdjust="spacingAndGlyphs" transform="rotate(-90 736.00 245.50)">17<tspan font-size="3.60" dy="-2.20">5</tspan></text>
<text x="747.60" y="265.00" dy="2.1" font-size="5.8" text-anchor="middle" fill="#2a2a2a" textLength="10.50" lengthAdjust="spacingAndGlyphs" transform="rotate(-90 747.60 265.00)">2.30<tspan font-size="3.60" dy="-2.20">5</tspan></text>
<text x="737.60" y="293.00" dy="2.1" font-size="5.8" text-anchor="middle" fill="#2a2a2a" textLength="10.50" lengthAdjust="spacingAndGlyphs" transform="rotate(-90 737.60 293.00)">4.02<tspan font-size="3.60" dy="-2.20">5</tspan></text>
<text x="747.80" y="298.00" dy="2.1" font-size="5.8" text-anchor="middle" fill="#2a2a2a" textLength="5.20" lengthAdjust="spacingAndGlyphs" transform="rotate(-90 747.80 298.00)">98</text>
<text x="757.00" y="298.00" dy="2.1" font-size="5.8" text-anchor="middle" fill="#2a2a2a" textLength="8.80" lengthAdjust="spacingAndGlyphs" transform="rotate(-90 757.00 298.00)">1.22</text>
<text x="749.00" y="324.00" dy="2.1" font-size="5.8" text-anchor="middle" fill="#2a2a2a" textLength="8.80" lengthAdjust="spacingAndGlyphs" transform="rotate(-90 749.00 324.00)">1.56</text>
<text x="739.50" y="337.00" dy="2.1" font-size="6.4" text-anchor="middle" fill="#2a2a2a" textLength="5.80" lengthAdjust="spacingAndGlyphs" transform="rotate(-90 739.50 337.00)">30</text>
<text x="726.60" y="356.00" dy="2.1" font-size="5.8" text-anchor="middle" fill="#2a2a2a" textLength="8.80" lengthAdjust="spacingAndGlyphs" transform="rotate(-90 726.60 356.00)">1.50</text>
<line x1="773.30" y1="78.30" x2="816.00" y2="78.00" stroke="#666" stroke-width="1.0" stroke-dasharray="4.5 3"/>
<line x1="773.30" y1="78.30" x2="777.00" y2="370.50" stroke="#777" stroke-width="1.0" stroke-dasharray="4.5 3"/>
<line x1="777.00" y1="370.50" x2="816.00" y2="370.20" stroke="#666" stroke-width="1.0" stroke-dasharray="4.5 3"/>
<line x1="791.30" y1="31.70" x2="791.50" y2="70.00" stroke="#555" stroke-width="0.8" />
<line x1="787.50" y1="37.50" x2="816.00" y2="37.50" stroke="#555" stroke-width="0.7" />
<line x1="789.70" y1="39.20" x2="793.10" y2="35.80" stroke="#222" stroke-width="1.1" />
<line x1="787.50" y1="49.20" x2="816.00" y2="49.20" stroke="#555" stroke-width="0.7" />
<line x1="789.70" y1="50.90" x2="793.10" y2="47.50" stroke="#222" stroke-width="1.1" />
<line x1="787.50" y1="63.80" x2="816.00" y2="63.80" stroke="#555" stroke-width="0.7" />
<line x1="789.70" y1="65.50" x2="793.10" y2="62.10" stroke="#222" stroke-width="1.1" />
<line x1="797.50" y1="46.50" x2="797.50" y2="59.00" stroke="#555" stroke-width="0.7" />
<line x1="795.90" y1="50.80" x2="799.10" y2="47.60" stroke="#222" stroke-width="1.1" />
<text x="795.30" y="45.60" font-size="6.4" text-anchor="middle" fill="#2a2a2a" textLength="5.80" lengthAdjust="spacingAndGlyphs">30</text>
<text x="810.50" y="59.80" font-size="5.0" text-anchor="start" fill="#2a2a2a" font-weight="normal" >2.</text>
<line x1="792.00" y1="98.30" x2="816.00" y2="98.10" stroke="#2e2e2e" stroke-width="1.1" />
<line x1="798.30" y1="104.30" x2="816.00" y2="104.10" stroke="#2e2e2e" stroke-width="1.0" />
<line x1="792.00" y1="98.30" x2="793.07" y2="172.50" stroke="#2e2e2e" stroke-width="1.1" />
<line x1="798.30" y1="104.30" x2="799.25" y2="172.50" stroke="#2e2e2e" stroke-width="1.0" />
<line x1="792.00" y1="98.30" x2="798.22" y2="98.30" stroke="#2e2e2e" stroke-width="0.9" />
<line x1="793.07" y1="172.50" x2="799.25" y2="172.50" stroke="#2e2e2e" stroke-width="0.9" />
<line x1="793.36" y1="192.50" x2="793.75" y2="219.50" stroke="#2e2e2e" stroke-width="1.1" />
<line x1="799.53" y1="192.50" x2="799.91" y2="219.50" stroke="#2e2e2e" stroke-width="1.0" />
<line x1="793.36" y1="192.50" x2="799.53" y2="192.50" stroke="#2e2e2e" stroke-width="0.9" />
<line x1="793.75" y1="219.50" x2="799.91" y2="219.50" stroke="#2e2e2e" stroke-width="0.9" />
<line x1="794.04" y1="239.50" x2="794.74" y2="288.00" stroke="#2e2e2e" stroke-width="1.1" />
<line x1="800.19" y1="239.50" x2="800.87" y2="288.00" stroke="#2e2e2e" stroke-width="1.0" />
<line x1="794.04" y1="239.50" x2="800.19" y2="239.50" stroke="#2e2e2e" stroke-width="0.9" />
<line x1="794.74" y1="288.00" x2="800.87" y2="288.00" stroke="#2e2e2e" stroke-width="0.9" />
<line x1="795.02" y1="307.50" x2="795.50" y2="340.50" stroke="#2e2e2e" stroke-width="1.1" />
<line x1="801.14" y1="307.50" x2="801.60" y2="340.50" stroke="#2e2e2e" stroke-width="1.0" />
<line x1="795.02" y1="307.50" x2="801.14" y2="307.50" stroke="#2e2e2e" stroke-width="0.9" />
<line x1="795.50" y1="340.50" x2="801.60" y2="340.50" stroke="#2e2e2e" stroke-width="0.9" />
<line x1="794.93" y1="172.50" x2="795.21" y2="192.50" stroke="#555" stroke-width="0.6" />
<line x1="797.40" y1="172.50" x2="797.68" y2="192.50" stroke="#555" stroke-width="0.6" />
<line x1="795.60" y1="219.50" x2="795.89" y2="239.50" stroke="#555" stroke-width="0.6" />
<line x1="798.06" y1="219.50" x2="798.35" y2="239.50" stroke="#555" stroke-width="0.6" />
<line x1="796.58" y1="288.00" x2="796.86" y2="307.50" stroke="#555" stroke-width="0.6" />
<line x1="799.03" y1="288.00" x2="799.31" y2="307.50" stroke="#555" stroke-width="0.6" />
<line x1="795.50" y1="340.50" x2="816.00" y2="340.30" stroke="#2e2e2e" stroke-width="1.1" />
<line x1="801.50" y1="333.00" x2="816.00" y2="332.90" stroke="#2e2e2e" stroke-width="1.0" />
<polygon points="798.50,104.50 817.00,104.50 817.00,153.50 798.50,153.50" fill="none" stroke="#333" stroke-width="1.0" />
<line x1="810.60" y1="104.50" x2="810.70" y2="153.50" stroke="#888" stroke-width="0.8" />
<line x1="798.50" y1="116.70" x2="816.00" y2="116.70" stroke="#999" stroke-width="0.7" />
<line x1="798.50" y1="128.80" x2="816.00" y2="128.80" stroke="#999" stroke-width="0.7" />
<line x1="798.50" y1="141.00" x2="816.00" y2="141.00" stroke="#999" stroke-width="0.7" />
<line x1="798.50" y1="104.50" x2="810.60" y2="116.70" stroke="#333" stroke-width="0.85" />
<line x1="798.50" y1="116.70" x2="810.60" y2="104.50" stroke="#333" stroke-width="0.85" />
<line x1="810.60" y1="104.50" x2="822.70" y2="116.70" stroke="#444" stroke-width="0.8" />
<line x1="810.60" y1="116.70" x2="822.70" y2="104.50" stroke="#444" stroke-width="0.8" />
<line x1="798.50" y1="116.70" x2="810.60" y2="128.80" stroke="#333" stroke-width="0.85" />
<line x1="798.50" y1="128.80" x2="810.60" y2="116.70" stroke="#333" stroke-width="0.85" />
<line x1="810.60" y1="116.70" x2="822.70" y2="128.80" stroke="#444" stroke-width="0.8" />
<line x1="810.60" y1="128.80" x2="822.70" y2="116.70" stroke="#444" stroke-width="0.8" />
<line x1="798.50" y1="128.80" x2="810.60" y2="141.00" stroke="#333" stroke-width="0.85" />
<line x1="798.50" y1="141.00" x2="810.60" y2="128.80" stroke="#333" stroke-width="0.85" />
<line x1="810.60" y1="128.80" x2="822.70" y2="141.00" stroke="#444" stroke-width="0.8" />
<line x1="810.60" y1="141.00" x2="822.70" y2="128.80" stroke="#444" stroke-width="0.8" />
<line x1="798.50" y1="141.00" x2="810.60" y2="153.50" stroke="#333" stroke-width="0.85" />
<line x1="798.50" y1="153.50" x2="810.60" y2="141.00" stroke="#333" stroke-width="0.85" />
<line x1="810.60" y1="141.00" x2="822.70" y2="153.50" stroke="#444" stroke-width="0.8" />
<line x1="810.60" y1="153.50" x2="822.70" y2="141.00" stroke="#444" stroke-width="0.8" />
<line x1="792.70" y1="135.50" x2="816.00" y2="135.40" stroke="#333" stroke-width="0.8" />
<polygon points="762.00,132.70 773.30,120.70 786.00,132.70" fill="none" stroke="#1e1e1e" stroke-width="1.3" />
<line x1="761.30" y1="135.90" x2="790.00" y2="135.80" stroke="#555" stroke-width="1.0" stroke-dasharray="4.5 2.5"/>
<line x1="799.40" y1="156.40" x2="816.00" y2="156.40" stroke="#2e2e2e" stroke-width="1.0" />
<line x1="799.40" y1="156.40" x2="799.60" y2="187.50" stroke="#666" stroke-width="0.9" />
<path d="M816,158.3 L803,158.3 Q800.6,158.3 800.6,161 L800.6,184 Q800.6,187.3 803.6,187.3 L816,187.3" fill="none" stroke="#999" stroke-width="0.9"/>
<path d="M815,160.5 A12.4,12.4 0 0 0 815,185.3" fill="none" stroke="#555" stroke-width="0.9"/>
<path d="M815,163.1 A9.2,9.2 0 0 0 815,181.5" fill="none" stroke="#555" stroke-width="0.9"/>
<line x1="799.30" y1="206.00" x2="816.00" y2="205.90" stroke="#2e2e2e" stroke-width="1.0" />
<line x1="800.20" y1="210.50" x2="816.00" y2="210.40" stroke="#2e2e2e" stroke-width="1.0" />
<ellipse cx="806.3" cy="216.5" rx="3.8" ry="5.2" fill="none" stroke="#444" stroke-width="0.8"/>
<polygon points="803.00,208.60 810.00,208.60 810.00,210.50 803.00,210.50" fill="none" stroke="#555" stroke-width="0.7" />
<text x="810.50" y="229.00" font-size="5.6" text-anchor="start" fill="#2a2a2a" font-weight="normal" >Bi</text>
<text x="810.50" y="236.50" font-size="5.6" text-anchor="start" fill="#2a2a2a" font-weight="normal" >5</text>
<polygon points="803.00,240.00 816.50,240.00 816.50,247.50 803.00,247.50" fill="none" stroke="#444" stroke-width="0.8" />
<line x1="800.30" y1="247.50" x2="816.00" y2="247.40" stroke="#2e2e2e" stroke-width="1.0" />
<line x1="800.40" y1="251.00" x2="816.00" y2="250.90" stroke="#2e2e2e" stroke-width="1.0" />
<line x1="801.00" y1="271.00" x2="816.00" y2="271.00" stroke="#444" stroke-width="0.9" />
<line x1="806.60" y1="253.00" x2="808.30" y2="270.50" stroke="#666" stroke-width="0.8" />
<line x1="809.50" y1="253.00" x2="809.50" y2="270.50" stroke="#777" stroke-width="0.8" />
<polyline points="815.00,294.00 807.50,302.00 815.00,310.00 807.50,316.00 815.00,320.00" fill="none" stroke="#333" stroke-width="0.9" />
<polygon points="801.50,325.50 816.50,325.50 816.50,333.00 801.50,333.00" fill="none" stroke="#444" stroke-width="0.9" />
<line x1="812.00" y1="325.50" x2="812.00" y2="333.00" stroke="#555" stroke-width="0.6" />
<line x1="767.80" y1="176.30" x2="768.60" y2="261.50" stroke="#444" stroke-width="0.9" />
<line x1="767.80" y1="176.30" x2="794.00" y2="176.30" stroke="#555" stroke-width="0.8" />
<line x1="767.86" y1="182.50" x2="794.07" y2="182.50" stroke="#555" stroke-width="0.8" />
<line x1="767.91" y1="188.50" x2="794.12" y2="188.50" stroke="#555" stroke-width="0.8" />
<line x1="767.97" y1="194.50" x2="794.18" y2="194.50" stroke="#555" stroke-width="0.8" />
<line x1="768.03" y1="200.50" x2="794.25" y2="200.50" stroke="#555" stroke-width="0.8" />
<line x1="768.08" y1="206.50" x2="794.30" y2="206.50" stroke="#555" stroke-width="0.8" />
<line x1="768.15" y1="213.00" x2="794.37" y2="213.00" stroke="#555" stroke-width="0.8" />
<line x1="768.21" y1="219.50" x2="794.43" y2="219.50" stroke="#555" stroke-width="0.8" />
<line x1="768.26" y1="225.50" x2="794.50" y2="225.50" stroke="#555" stroke-width="0.8" />
<line x1="768.32" y1="231.50" x2="794.55" y2="231.50" stroke="#555" stroke-width="0.8" />
<line x1="768.38" y1="237.50" x2="794.62" y2="237.50" stroke="#555" stroke-width="0.8" />
<line x1="768.44" y1="244.00" x2="794.68" y2="244.00" stroke="#555" stroke-width="0.8" />
<line x1="768.49" y1="250.00" x2="794.74" y2="250.00" stroke="#555" stroke-width="0.8" />
<line x1="768.55" y1="256.00" x2="794.80" y2="256.00" stroke="#555" stroke-width="0.8" />
<line x1="768.60" y1="261.50" x2="794.86" y2="261.50" stroke="#555" stroke-width="0.8" />
<line x1="796.50" y1="380.00" x2="796.70" y2="436.00" stroke="#555" stroke-width="0.8" />
<line x1="792.00" y1="391.00" x2="816.00" y2="391.00" stroke="#555" stroke-width="0.7" />
<line x1="794.90" y1="392.70" x2="798.30" y2="389.30" stroke="#222" stroke-width="1.1" />
<line x1="792.00" y1="404.00" x2="816.00" y2="404.00" stroke="#555" stroke-width="0.7" />
<line x1="794.90" y1="405.70" x2="798.30" y2="402.30" stroke="#222" stroke-width="1.1" />
<line x1="792.00" y1="415.50" x2="816.00" y2="415.50" stroke="#555" stroke-width="0.7" />
<line x1="794.90" y1="417.20" x2="798.30" y2="413.80" stroke="#222" stroke-width="1.1" />
<line x1="792.00" y1="428.00" x2="816.00" y2="428.00" stroke="#555" stroke-width="0.7" />
<line x1="794.90" y1="429.70" x2="798.30" y2="426.30" stroke="#222" stroke-width="1.1" />
<line x1="803.00" y1="406.00" x2="803.00" y2="420.00" stroke="#555" stroke-width="0.7" />
<line x1="801.40" y1="417.10" x2="804.60" y2="413.90" stroke="#222" stroke-width="1.1" />
<text x="800.50" y="412.50" font-size="6.4" text-anchor="middle" fill="#2a2a2a" textLength="5.80" lengthAdjust="spacingAndGlyphs">30</text>
<line x1="778.50" y1="418.00" x2="778.60" y2="434.00" stroke="#555" stroke-width="0.7" />
<line x1="773.00" y1="428.00" x2="797.00" y2="428.00" stroke="#555" stroke-width="0.7" />
<line x1="776.80" y1="429.70" x2="780.20" y2="426.30" stroke="#222" stroke-width="1.1" />
<text x="788.00" y="425.50" font-size="5.8" text-anchor="middle" fill="#2a2a2a" textLength="5.20" lengthAdjust="spacingAndGlyphs">90</text>
<line x1="497.50" y1="394.22" x2="676.70" y2="393.28" stroke="#555" stroke-width="0.8" />
<line x1="498.80" y1="396.20" x2="502.80" y2="392.20" stroke="#222" stroke-width="1.1" />
<line x1="670.80" y1="395.30" x2="674.80" y2="391.30" stroke="#222" stroke-width="1.1" />
<line x1="497.50" y1="407.53" x2="676.70" y2="405.76" stroke="#555" stroke-width="0.8" />
<line x1="498.80" y1="409.50" x2="502.80" y2="405.50" stroke="#222" stroke-width="1.1" />
<line x1="670.80" y1="407.80" x2="674.80" y2="403.80" stroke="#222" stroke-width="1.1" />
<line x1="497.50" y1="418.72" x2="676.70" y2="417.47" stroke="#555" stroke-width="0.8" />
<line x1="498.80" y1="420.70" x2="502.80" y2="416.70" stroke="#222" stroke-width="1.1" />
<line x1="670.80" y1="419.50" x2="674.80" y2="415.50" stroke="#222" stroke-width="1.1" />
<line x1="497.50" y1="431.31" x2="676.70" y2="430.79" stroke="#555" stroke-width="0.8" />
<line x1="498.80" y1="433.30" x2="502.80" y2="429.30" stroke="#222" stroke-width="1.1" />
<line x1="670.80" y1="432.80" x2="674.80" y2="428.80" stroke="#222" stroke-width="1.1" />
<line x1="500.80" y1="383.50" x2="500.90" y2="438.00" stroke="#555" stroke-width="0.8" />
<line x1="672.80" y1="381.70" x2="672.90" y2="436.00" stroke="#555" stroke-width="0.8" />
<line x1="507.50" y1="397.50" x2="507.50" y2="425.00" stroke="#555" stroke-width="0.7" />
<line x1="505.80" y1="409.13" x2="509.20" y2="405.73" stroke="#222" stroke-width="1.1" />
<line x1="505.80" y1="420.35" x2="509.20" y2="416.95" stroke="#222" stroke-width="1.1" />
<line x1="667.00" y1="398.00" x2="667.00" y2="422.00" stroke="#555" stroke-width="0.7" />
<line x1="665.30" y1="407.56" x2="668.70" y2="404.16" stroke="#222" stroke-width="1.1" />
<line x1="665.30" y1="419.24" x2="668.70" y2="415.84" stroke="#222" stroke-width="1.1" />
<line x1="554.70" y1="382.50" x2="554.70" y2="399.00" stroke="#555" stroke-width="0.7" />
<line x1="553.00" y1="395.62" x2="556.40" y2="392.22" stroke="#222" stroke-width="1.1" />
<line x1="574.50" y1="382.50" x2="574.50" y2="399.00" stroke="#555" stroke-width="0.7" />
<line x1="572.80" y1="395.51" x2="576.20" y2="392.11" stroke="#222" stroke-width="1.1" />
<line x1="596.70" y1="382.50" x2="596.70" y2="399.00" stroke="#555" stroke-width="0.7" />
<line x1="595.00" y1="395.40" x2="598.40" y2="392.00" stroke="#222" stroke-width="1.1" />
<line x1="616.70" y1="382.50" x2="616.70" y2="399.00" stroke="#555" stroke-width="0.7" />
<line x1="615.00" y1="395.29" x2="618.40" y2="391.89" stroke="#222" stroke-width="1.1" />
<line x1="584.20" y1="399.50" x2="584.20" y2="412.00" stroke="#555" stroke-width="0.7" />
<line x1="582.50" y1="408.38" x2="585.90" y2="404.98" stroke="#222" stroke-width="1.1" />
<line x1="587.00" y1="399.50" x2="587.00" y2="412.00" stroke="#555" stroke-width="0.7" />
<line x1="585.30" y1="408.35" x2="588.70" y2="404.95" stroke="#222" stroke-width="1.1" />
<line x1="610.00" y1="399.50" x2="610.00" y2="412.00" stroke="#555" stroke-width="0.7" />
<line x1="608.30" y1="408.12" x2="611.70" y2="404.72" stroke="#222" stroke-width="1.1" />
<line x1="612.80" y1="399.50" x2="612.80" y2="412.00" stroke="#555" stroke-width="0.7" />
<line x1="611.10" y1="408.09" x2="614.50" y2="404.69" stroke="#222" stroke-width="1.1" />
<text x="527.50" y="390.60" font-size="5.8" text-anchor="middle" fill="#2a2a2a" textLength="10.50" lengthAdjust="spacingAndGlyphs">2.74<tspan font-size="3.60" dy="-2.20">5</tspan></text>
<text x="564.70" y="390.60" font-size="5.8" text-anchor="middle" fill="#2a2a2a" textLength="8.80" lengthAdjust="spacingAndGlyphs">1.00</text>
<text x="565.30" y="398.40" font-size="5.8" text-anchor="middle" fill="#2a2a2a" textLength="5.20" lengthAdjust="spacingAndGlyphs">60</text>
<text x="585.30" y="390.40" font-size="5.8" text-anchor="middle" fill="#2a2a2a" textLength="8.80" lengthAdjust="spacingAndGlyphs">1.06</text>
<text x="606.70" y="390.40" font-size="5.8" text-anchor="middle" fill="#2a2a2a" textLength="8.80" lengthAdjust="spacingAndGlyphs">1.00</text>
<text x="606.70" y="397.60" font-size="5.8" text-anchor="middle" fill="#2a2a2a" textLength="5.20" lengthAdjust="spacingAndGlyphs">60</text>
<text x="645.00" y="390.00" font-size="5.8" text-anchor="middle" fill="#2a2a2a" textLength="10.50" lengthAdjust="spacingAndGlyphs">2.74<tspan font-size="3.60" dy="-2.20">5</tspan></text>
<text x="504.40" y="404.30" font-size="6.4" text-anchor="middle" fill="#2a2a2a" textLength="5.80" lengthAdjust="spacingAndGlyphs">30</text>
<text x="545.00" y="403.80" font-size="5.8" text-anchor="middle" fill="#2a2a2a" textLength="10.50" lengthAdjust="spacingAndGlyphs">3.90<tspan font-size="3.60" dy="-2.20">5</tspan></text>
<text x="578.00" y="405.20" font-size="5.8" text-anchor="middle" fill="#2a2a2a" textLength="5.20" lengthAdjust="spacingAndGlyphs">14</text>
<text x="594.20" y="403.20" font-size="5.8" text-anchor="middle" fill="#2a2a2a" textLength="10.50" lengthAdjust="spacingAndGlyphs">1.08<tspan font-size="3.60" dy="-2.20">5</tspan></text>
<text x="616.70" y="405.00" font-size="5.8" text-anchor="middle" fill="#2a2a2a" textLength="5.20" lengthAdjust="spacingAndGlyphs">14</text>
<text x="640.00" y="403.60" font-size="5.8" text-anchor="middle" fill="#2a2a2a" textLength="8.80" lengthAdjust="spacingAndGlyphs">2.68</text>
<text x="670.00" y="402.70" font-size="6.4" text-anchor="middle" fill="#2a2a2a" textLength="5.80" lengthAdjust="spacingAndGlyphs">30</text>
<text x="504.40" y="416.50" font-size="6.4" text-anchor="middle" fill="#2a2a2a" textLength="5.80" lengthAdjust="spacingAndGlyphs">30</text>
<text x="585.80" y="415.20" font-size="5.8" text-anchor="middle" fill="#2a2a2a" textLength="8.80" lengthAdjust="spacingAndGlyphs">7.55</text>
<text x="670.00" y="414.40" font-size="6.4" text-anchor="middle" fill="#2a2a2a" textLength="5.80" lengthAdjust="spacingAndGlyphs">30</text>
<text x="585.80" y="428.20" font-size="5.8" text-anchor="middle" fill="#2a2a2a" textLength="8.80" lengthAdjust="spacingAndGlyphs">8.55</text>
<text x="499.20" y="481.00" font-size="28.6" text-anchor="start" fill="#111" font-weight="normal" textLength="31.00" lengthAdjust="spacingAndGlyphs" style="stroke:#111;stroke-width:0.9px;font-weight:normal">KG</text>
<text x="796.30" y="476.70" font-size="28.6" text-anchor="start" fill="#111" font-weight="normal" textLength="18.60" lengthAdjust="spacingAndGlyphs" style="stroke:#111;stroke-width:0.9px;font-weight:normal">O</text>
<circle cx="396.7" cy="102.5" r="0.9" fill="#666"/>
<path d="M400,228 Q402,235 408,232" fill="none" stroke="#ccc" stroke-width="1"/>
<path d="M401,388 Q402,397 411,395" fill="none" stroke="#ddd" stroke-width="1.2"/>
<rect x="400" y="416" width="97" height="11" fill="#f9f9f9"/>
<line x1="471.20" y1="596.50" x2="471.20" y2="600.00" stroke="#333" stroke-width="0.9" />
</g>
</svg>
</body></html>
